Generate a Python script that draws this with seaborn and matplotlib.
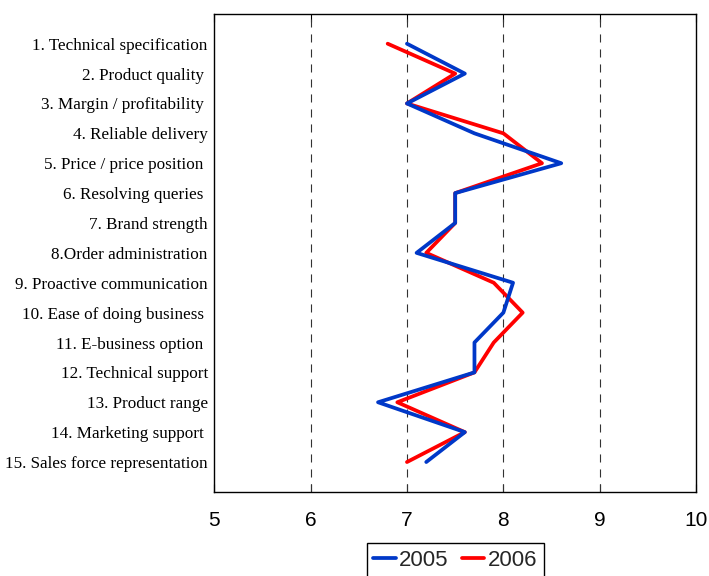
import matplotlib
matplotlib.use("Agg")
import matplotlib.pyplot as plt
import seaborn as sns
import pandas as pd

# Attribute labels, top to bottom
attributes = [
    "1. Technical specification",
    "2. Product quality ",
    "3. Margin / profitability ",
    "4. Reliable delivery",
    "5. Price / price position ",
    "6. Resolving queries ",
    "7. Brand strength",
    "8.Order administration",
    "9. Proactive communication",
    "10. Ease of doing business ",
    "11. E-business option ",
    "12. Technical support",
    "13. Product range",
    "14. Marketing support ",
    "15. Sales force representation",
]
positions = list(range(1, len(attributes) + 1))

scores_2005 = [7.0, 7.6, 7.0, 7.7, 8.6, 7.5, 7.5, 7.1, 8.1, 8.0, 7.7, 7.7, 6.7, 7.6, 7.2]
scores_2006 = [6.8, 7.5, 7.0, 8.0, 8.4, 7.5, 7.5, 7.2, 7.9, 8.2, 7.9, 7.7, 6.9, 7.6, 7.0]

x_ticks = [5, 6, 7, 8, 9, 10]

color_2005 = "#0038C8"
color_2006 = "#FF0000"

df05 = pd.DataFrame({"score": scores_2005, "pos": positions})
df06 = pd.DataFrame({"score": scores_2006, "pos": positions})

sns.set_style("white")
plt.rcParams["lines.scale_dashes"] = False

fig = plt.figure(figsize=(7.09, 5.76), dpi=100)
ax = fig.add_axes([0.302, 0.146, 0.68, 0.830])

# grid first so the series sit on top
for gx in [6, 7, 8, 9]:
    ax.axvline(gx, color="#333333", lw=0.8, linestyle=(0, (5.8, 5.0)), zorder=1)

sns.lineplot(data=df06, x="score", y="pos", orient="y", sort=True, color=color_2006,
             lw=2.7, ax=ax, label="2006", zorder=3)
sns.lineplot(data=df05, x="score", y="pos", orient="y", sort=True, color=color_2005,
             lw=2.7, ax=ax, label="2005", zorder=4)

ax.set_xlim(5, 10)
ax.set_ylim(16, 0)
ax.set_xticks(x_ticks)
ax.set_xticklabels([str(t) for t in x_ticks], fontsize=15, family="Liberation Sans")
ax.set_yticks(positions)
ax.set_yticklabels(attributes, fontsize=12.3, family="Liberation Serif")
ax.set_xlabel("")
ax.set_ylabel("")

ax.tick_params(axis="x", direction="in", length=5.5, width=0.8, top=True, bottom=True,
               pad=14, colors="black")
ax.tick_params(axis="y", length=0, pad=4.5, colors="black")

for s in ax.spines.values():
    s.set_visible(True)
    s.set_color("black")
    s.set_linewidth(1.0)

handles, labels = ax.get_legend_handles_labels()
order = [labels.index("2005"), labels.index("2006")]
leg = ax.legend([handles[i] for i in order], [labels[i] for i in order],
                loc="upper center", bbox_to_anchor=(0.5, -0.107), ncol=2,
                frameon=True, fancybox=False, edgecolor="black", framealpha=1,
                prop={"family": "Liberation Sans", "size": 16},
                handlelength=1.0, handletextpad=0.15, columnspacing=0.6,
                borderpad=0.3, borderaxespad=0)
leg.get_frame().set_linewidth(1.0)

fig.savefig("out.png", dpi=100)
